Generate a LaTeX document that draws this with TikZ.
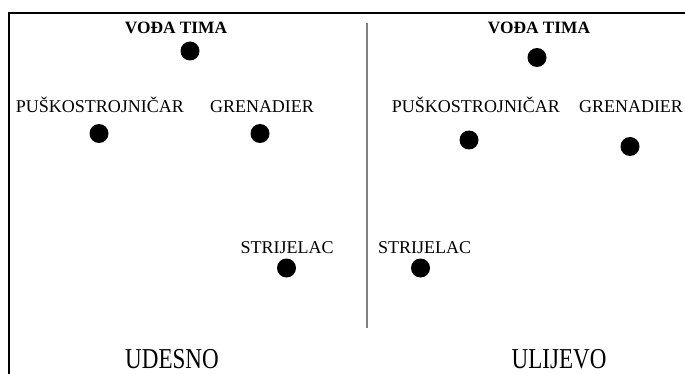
\documentclass[tikz,border=0pt]{standalone}
\usepackage{fontspec}
\setmainfont{Liberation Serif}
\tikzset{
    player/.style={circle, fill=black, inner sep=0pt, minimum size=14.25pt},
    role/.style={anchor=base, inner sep=0pt, font=\fontsize{13.5}{16}\selectfont},
    leader/.style={role, font=\fontsize{13}{16}\selectfont\bfseries},
    side/.style={anchor=base, inner sep=0pt, font=\fontsize{17.3}{20}\selectfont}
}
\newcommand{\tallside}[1]{\scalebox{1}[1.25]{#1}}
\begin{document}
\begin{tikzpicture}[x=0.75pt, y=-0.75pt]
    \useasboundingbox (0,0) rectangle (685,374);
    \draw[line width=1.3pt] (9,374) -- (9,13) -- (685,13);
    \draw[gray, line width=1pt] (367,23) -- (367,328);

    \node[leader] (lLeaderText) at (176,34) {VOĐA TIMA};
    \node[player] (lLeader) at (190,51) {};
    \node[role] (lGunnerText) at (100,113) {PUŠKOSTROJNIČAR};
    \node[player] (lGunner) at (99,133.5) {};
    \node[role] (lGrenText) at (262,113) {GRENADIER};
    \node[player] (lGren) at (260,133.5) {};
    \node[role] (lRifleText) at (287,253) {STRIJELAC};
    \node[player] (lRifle) at (286.5,268) {};
    \node[side] (lSide) at (172,368) {\tallside{UDESNO}};

    \node[leader] (rLeaderText) at (539,34) {VOĐA TIMA};
    \node[player] (rLeader) at (537,57.5) {};
    \node[role] (rGunnerText) at (476,113) {PUŠKOSTROJNIČAR};
    \node[player] (rGunner) at (469,140) {};
    \node[role] (rGrenText) at (631,113) {GRENADIER};
    \node[player] (rGren) at (630,146.5) {};
    \node[role] (rRifleText) at (424.5,253) {STRIJELAC};
    \node[player] (rRifle) at (420.5,268) {};
    \node[side] (rSide) at (559,368) {\tallside{ULIJEVO}};
\end{tikzpicture}
\end{document}
